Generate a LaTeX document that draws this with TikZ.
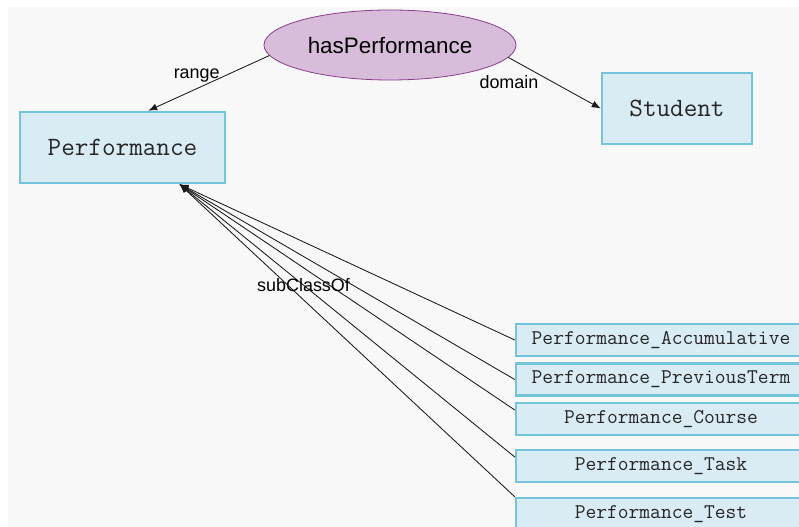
\documentclass[tikz,border=0pt]{standalone}
\usepackage{fontspec}
\setmainfont{Liberation Sans}
\usetikzlibrary{shapes.geometric, arrows.meta}
\definecolor{clsfill}{HTML}{D9ECF3}
\definecolor{clsline}{HTML}{73C5DB}
\definecolor{propfill}{HTML}{D7BDDA}
\definecolor{propline}{HTML}{8B3D8E}
\definecolor{canvasgray}{HTML}{F8F8F8}
\tikzset{
x=1bp, y=-1bp, % one unit is one pixel of the picture
>={Latex[length=9bp,width=7bp]},
every edge/.append style={->, line width=0.85bp, black!90}, % all connectors are directed
class/.style={draw=clsline, fill=clsfill, line width=2.5bp, text=black!85, font=\ttfamily\fontsize{26.5}{28}\selectfont, minimum height=71bp, inner sep=0pt},
subclass/.style={class, font=\ttfamily\fontsize{21}{23}\selectfont, minimum width=290bp, minimum height=32bp},
property/.style={ellipse, draw=propline, fill=propfill, line width=0.8bp, minimum width=252bp, minimum height=70bp, font=\fontsize{22.5}{26}\selectfont},
edgelabel/.style={font=\fontsize{18}{20}\selectfont, inner sep=0pt, text=black},
}

\begin{document}
\begin{tikzpicture}

\useasboundingbox (0,0) rectangle (799,527);
\clip (0,0) rectangle (799,527);
\fill[canvasgray] (8,7) rectangle (799,527);

\node[property] at (390,45) (hp) {hasPerformance};
\node[class, minimum width=205bp] at (122.5,147.5) (perf) {Performance};
\node[class, minimum width=150bp] at (677,108.5) (stu) {Student};

\node[subclass] at (661,340) (acc) {Performance\_Accumulative};
\node[subclass] at (661,379.5) (prev) {Performance\_PreviousTerm};
\node[subclass] at (661,419) (course) {Performance\_Course};
\node[subclass] at (661,466) (task) {Performance\_Task};
\node[subclass] at (661,514) (test) {Performance\_Test};

\coordinate (tip) at ([xshift=57bp]perf.south);

\draw (hp.185) edge node[edgelabel, pos=0.6, yshift=13bp] (rangelbl) {range} (perf.55);
\draw (hp.-6) edge node[edgelabel, pos=0.05, xshift=-4bp, yshift=-22bp] (domainlbl) {domain} (stu.west);

\draw (acc.west) edge (tip);
\draw (prev.west) edge (tip);
\draw ([yshift=9bp]course.west) edge (tip);
\draw ([yshift=9bp]task.west) edge node[edgelabel, pos=0.63] (subclbl) {subClassOf} (tip);
\draw (test.north west) edge (tip);

\end{tikzpicture}
\end{document}
